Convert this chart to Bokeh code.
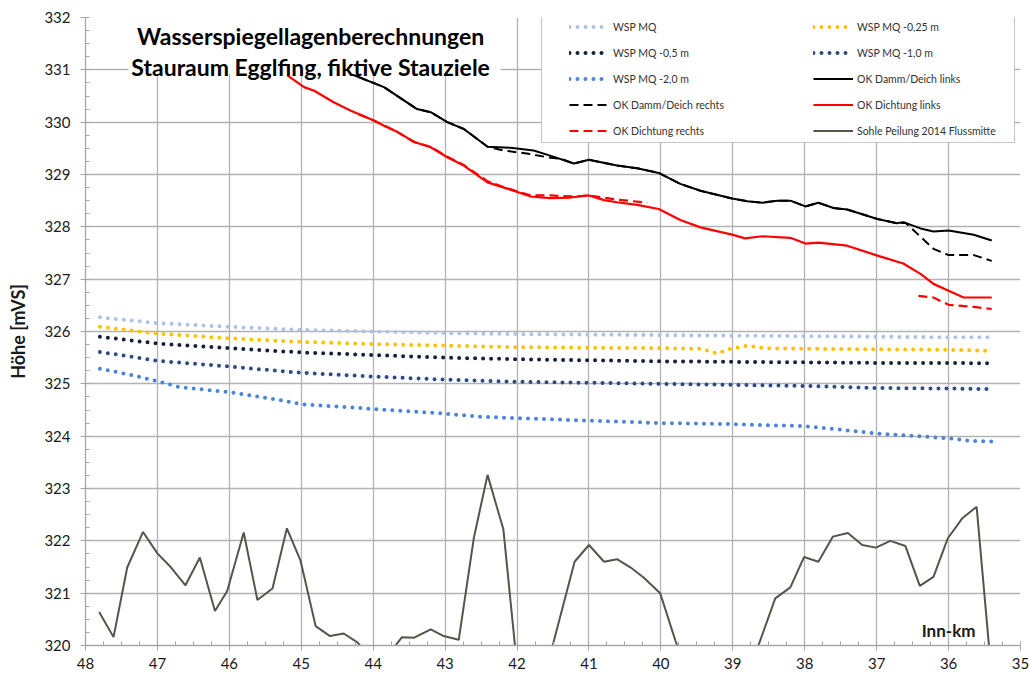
import math
import numpy as np
from bokeh.plotting import figure
from bokeh.models import Range1d, FixedTicker, Legend, LegendItem, Label, BoxAnnotation
from bokeh.embed import file_html
from bokeh.resources import INLINE

# ---------------- data (Inn-km, Höhe mVS) ----------------
km_mq = [47.8, 47.0, 46.0, 45.0, 44.0, 43.0, 42.0, 41.0, 40.0, 39.0, 38.0, 37.0, 36.0, 35.4]
wsp_mq = [326.27, 326.16, 326.09, 326.03, 326.00, 325.97, 325.95, 325.94, 325.93, 325.92, 325.91, 325.90, 325.89, 325.89]

km_025 = [47.8, 47.0, 46.0, 45.0, 44.0, 43.0, 42.0, 41.0, 40.0, 39.45, 39.22, 39.03, 38.8, 38.57, 38.0, 37.0, 36.0, 35.4]
wsp_025 = [326.09, 325.96, 325.87, 325.80, 325.76, 325.73, 325.70, 325.69, 325.68, 325.67, 325.58, 325.67, 325.73, 325.68, 325.67, 325.66, 325.65, 325.63]

km_05 = [47.8, 47.0, 46.0, 45.0, 44.0, 43.0, 42.0, 41.0, 40.0, 39.0, 38.0, 37.0, 36.0, 35.4]
wsp_05 = [325.90, 325.77, 325.68, 325.60, 325.55, 325.50, 325.47, 325.45, 325.43, 325.42, 325.41, 325.40, 325.40, 325.39]

km_10 = [47.8, 47.0, 46.0, 45.0, 44.0, 43.0, 42.0, 41.0, 40.0, 39.0, 38.0, 37.0, 36.0, 35.4]
wsp_10 = [325.61, 325.44, 325.33, 325.21, 325.14, 325.08, 325.04, 325.02, 325.00, 324.98, 324.96, 324.92, 324.91, 324.90]

km_20 = [47.8, 47.3, 47.0, 46.7, 46.0, 45.3, 45.0, 44.0, 43.0, 42.5, 41.9, 40.0, 39.0, 38.0, 37.6, 37.0, 36.0, 35.7, 35.4]
wsp_20 = [325.29, 325.15, 325.05, 324.94, 324.84, 324.69, 324.61, 324.52, 324.43, 324.37, 324.34, 324.25, 324.23, 324.19, 324.14, 324.05, 323.96, 323.91, 323.90]

km_damm_l = [44.31, 43.85, 43.39, 43.20, 42.97, 42.74, 42.41, 42.09, 41.77, 41.54, 41.21, 41.0, 40.61, 40.33, 40.03,
             39.73, 39.45, 39.01, 38.80, 38.59, 38.38, 38.20, 37.99, 37.81, 37.60, 37.41, 36.99, 36.72, 36.63,
             36.39, 36.21, 36.0, 35.65, 35.40]
damm_l = [330.92, 330.67, 330.25, 330.19, 330.00, 329.87, 329.53, 329.51, 329.46, 329.36, 329.21, 329.28, 329.17, 329.12, 329.03,
          328.82, 328.69, 328.54, 328.49, 328.46, 328.50, 328.50, 328.39, 328.46, 328.36, 328.33, 328.15, 328.07, 328.09,
          327.97, 327.91, 327.93, 327.85, 327.74]

km_damm_r = [44.2, 43.85, 43.39, 43.20, 42.97, 42.74, 42.41, 42.19, 41.81, 41.58, 41.39, 41.21, 41.0, 40.61, 40.33, 40.03,
             39.73, 39.45, 39.01, 38.80, 38.59, 38.38, 38.20, 37.99, 37.81, 37.60, 37.41, 36.99, 36.72, 36.60,
             36.39, 36.21, 36.0, 35.65, 35.40]
damm_r = [330.86, 330.67, 330.25, 330.19, 330.00, 329.87, 329.53, 329.46, 329.39, 329.33, 329.30, 329.21, 329.28, 329.17, 329.12, 329.03,
          328.82, 328.69, 328.54, 328.49, 328.46, 328.50, 328.50, 328.39, 328.46, 328.36, 328.33, 328.15, 328.07, 328.08,
          327.81, 327.58, 327.46, 327.46, 327.35]

km_dicht_l = [45.19, 44.96, 44.82, 44.55, 44.31, 43.99, 43.85, 43.66, 43.43, 43.20, 42.97, 42.74, 42.41, 42.09, 41.81,
              41.54, 41.26, 41.0, 40.79, 40.61, 40.33, 40.03, 39.73, 39.45, 39.01, 38.83, 38.59, 38.20, 37.99, 37.81,
              37.41, 36.99, 36.63, 36.39, 36.21, 36.0, 35.79, 35.40]
dicht_l = [330.89, 330.67, 330.60, 330.38, 330.22, 330.03, 329.93, 329.81, 329.62, 329.52, 329.33, 329.17, 328.85, 328.71, 328.58,
           328.55, 328.56, 328.60, 328.51, 328.47, 328.42, 328.34, 328.13, 327.99, 327.85, 327.78, 327.82, 327.79, 327.68, 327.70,
           327.64, 327.45, 327.30, 327.10, 326.91, 326.78, 326.65, 326.65]

km_dicht_r = [44.2, 43.99, 43.66, 43.43, 43.20, 42.97, 42.74, 42.41, 42.19, 41.81, 41.54, 41.21, 41.0, 40.61, 40.46, 40.19,
              math.nan, 36.42, 36.21, 36.0, 35.65, 35.40]
dicht_r = [330.15, 330.03, 329.81, 329.62, 329.53, 329.34, 329.18, 328.87, 328.76, 328.60, 328.60, 328.58, 328.60, 328.52, 328.50, 328.46,
           math.nan, 326.68, 326.65, 326.51, 326.47, 326.43]

km_sohle = [47.81, 47.61, 47.42, 47.20, 47.0, 46.81, 46.61, 46.41, 46.20, 46.03, 45.80, 45.61, 45.40, 45.20, 45.01,
            44.80, 44.60, 44.41, 44.22, 44.0, 43.8, 43.60, 43.43, 43.20, 43.02, 42.81, 42.60, 42.41, 42.19, 42.0,
            41.8, 41.6, 41.20, 41.0, 40.79, 40.61, 40.42, 40.24, 40.01, 39.8, 39.6, 39.4, 39.2, 39.0, 38.8,
            38.41, 38.20, 38.01, 37.81, 37.61, 37.40, 37.20, 37.01, 36.81, 36.60, 36.40, 36.21, 36.01, 35.81,
            35.61, 35.40]
sohle = [320.64, 320.16, 321.49, 322.17, 321.76, 321.49, 321.15, 321.68, 320.66, 321.04, 322.16, 320.87, 321.09, 322.24, 321.62,
         320.37, 320.18, 320.23, 320.06, 319.70, 319.80, 320.16, 320.15, 320.31, 320.18, 320.11, 322.06, 323.26, 322.22, 319.60,
         319.30, 319.50, 321.60, 321.92, 321.60, 321.65, 321.49, 321.30, 321.00, 320.10, 319.30, 319.00, 318.90, 319.00, 319.40,
         320.90, 321.11, 321.69, 321.60, 322.08, 322.15, 321.92, 321.87, 322.00, 321.90, 321.14, 321.31, 322.05, 322.43,
         322.65, 319.40]

x_ticks = list(range(35, 49))
y_ticks = list(range(320, 333))

# ---------------- figure ----------------
p = figure(width=1029, height=675, output_backend="svg", toolbar_location=None,
           x_range=Range1d(48, 35), y_range=Range1d(320, 332),
           min_border_left=85, min_border_right=9, min_border_top=17, min_border_bottom=30)
p.outline_line_color = None
p.background_fill_color = "white"
p.border_fill_color = "white"

p.xaxis.ticker = FixedTicker(ticks=x_ticks, minor_ticks=list(np.arange(35, 48.001, 0.25)))
p.yaxis.ticker = FixedTicker(ticks=y_ticks, minor_ticks=list(np.arange(320, 332.001, 0.25)))

for ax in (p.xaxis[0], p.yaxis[0]):
    ax.axis_line_color = "#a6a6a6"
    ax.axis_line_width = 1.3
    ax.major_tick_line_color = "#a6a6a6"
    ax.minor_tick_line_color = "#a6a6a6"
    ax.major_tick_in = 0
    ax.major_tick_out = 5
    ax.minor_tick_in = 4
    ax.minor_tick_out = 0
    ax.major_label_text_font = "Lato"
    ax.major_label_text_font_size = "15px"
    ax.major_label_text_color = "#1a1a1a"
p.xaxis.major_label_standoff = 7
p.yaxis.major_label_standoff = 10
p.yaxis.axis_label = "Höhe [mVS]"
p.yaxis.axis_label_text_font = "Lato"
p.yaxis.axis_label_text_font_style = "bold"
p.yaxis.axis_label_text_font_size = "18px"
p.yaxis.axis_label_text_color = "#1a1a1a"
p.yaxis.axis_label_standoff = 12

p.xgrid.grid_line_color = "#b3b3b3"
p.ygrid.grid_line_color = "#b3b3b3"
p.xgrid.grid_line_width = 1.3
p.ygrid.grid_line_width = 1.3

# ---------------- series ----------------
dot = dict(line_width=4, line_dash="0 8", line_cap="round")
r_mq = p.line(km_mq, wsp_mq, line_color="#adc3e6", **dot)
r_025 = p.line(km_025, wsp_025, line_color="#ffc000", **dot)
r_05 = p.line(km_05, wsp_05, line_color="#162039", **dot)
r_10 = p.line(km_10, wsp_10, line_color="#2e4a85", **dot)
r_20 = p.line(km_20, wsp_20, line_color="#4a84d8", **dot)

r_sohle = p.line(km_sohle, sohle, line_color="#55554a", line_width=2)
r_damm_r = p.line(km_damm_r, damm_r, line_color="black", line_width=2, line_dash="9 5")
r_damm_l = p.line(km_damm_l, damm_l, line_color="black", line_width=2)
r_dicht_r = p.line(km_dicht_r, dicht_r, line_color="#ff0000", line_width=2.2, line_dash="9 5")
r_dicht_l = p.line(km_dicht_l, dicht_l, line_color="#ff0000", line_width=2.2)

# ---------------- title box ----------------
p.add_layout(BoxAnnotation(left=47.40, right=42.23, bottom=330.92, top=332.4,
                           fill_color="white", fill_alpha=1, line_color=None))
for txt, yy in (("Wasserspiegellagenberechnungen", 331.637), ("Stauraum Egglfing, fiktive Stauziele", 331.06)):
    p.add_layout(Label(x=44.87, y=yy, text=txt, text_align="center", text_baseline="alphabetic",
                       text_font="Lato", text_font_style="bold", text_font_size="23px", text_color="black"))

p.add_layout(Label(x=36.0, y=320.28, text="Inn-km", text_align="center", text_baseline="alphabetic",
                   text_font="Lato", text_font_style="bold", text_font_size="17px", text_color="#1a1a1a"))

# ---------------- legend ----------------
dummy = p.line(x=[], y=[], line_alpha=0)
box_leg = Legend(items=[LegendItem(label=" ", renderers=[dummy])], location=(456, 502),
                 orientation="vertical", padding=0, margin=0, spacing=0,
                 glyph_width=472, glyph_height=130, label_width=0, label_height=130, label_standoff=0,
                 label_text_font_size="2px",
                 border_line_color="#8c8c8c", border_line_width=1.3,
                 background_fill_color="white", background_fill_alpha=1)
p.add_layout(box_leg)

common = dict(orientation="vertical", padding=0, margin=0, spacing=5,
              glyph_width=40, glyph_height=21, label_height=21, label_width=100, label_standoff=4,
              border_line_alpha=0, background_fill_alpha=0,
              label_text_font="Lato", label_text_font_size="10.5px", label_text_color="#333333")
leg1 = Legend(items=[LegendItem(label="WSP MQ", renderers=[r_mq]),
                     LegendItem(label="WSP MQ -0,5 m", renderers=[r_05]),
                     LegendItem(label="WSP MQ -2,0 m", renderers=[r_20]),
                     LegendItem(label="OK Damm/Deich rechts", renderers=[r_damm_r]),
                     LegendItem(label="OK Dichtung rechts", renderers=[r_dicht_r])],
              location=(484, 504), **common)
leg2 = Legend(items=[LegendItem(label="WSP MQ -0,25 m", renderers=[r_025]),
                     LegendItem(label="WSP MQ -1,0 m", renderers=[r_10]),
                     LegendItem(label="OK Damm/Deich links", renderers=[r_damm_l]),
                     LegendItem(label="OK Dichtung links", renderers=[r_dicht_l]),
                     LegendItem(label="Sohle Peilung 2014 Flussmitte", renderers=[r_sohle])],
              location=(728, 504), **common)
p.add_layout(leg1)
p.add_layout(leg2)

open("out.html", "w").write(file_html(p, INLINE))
